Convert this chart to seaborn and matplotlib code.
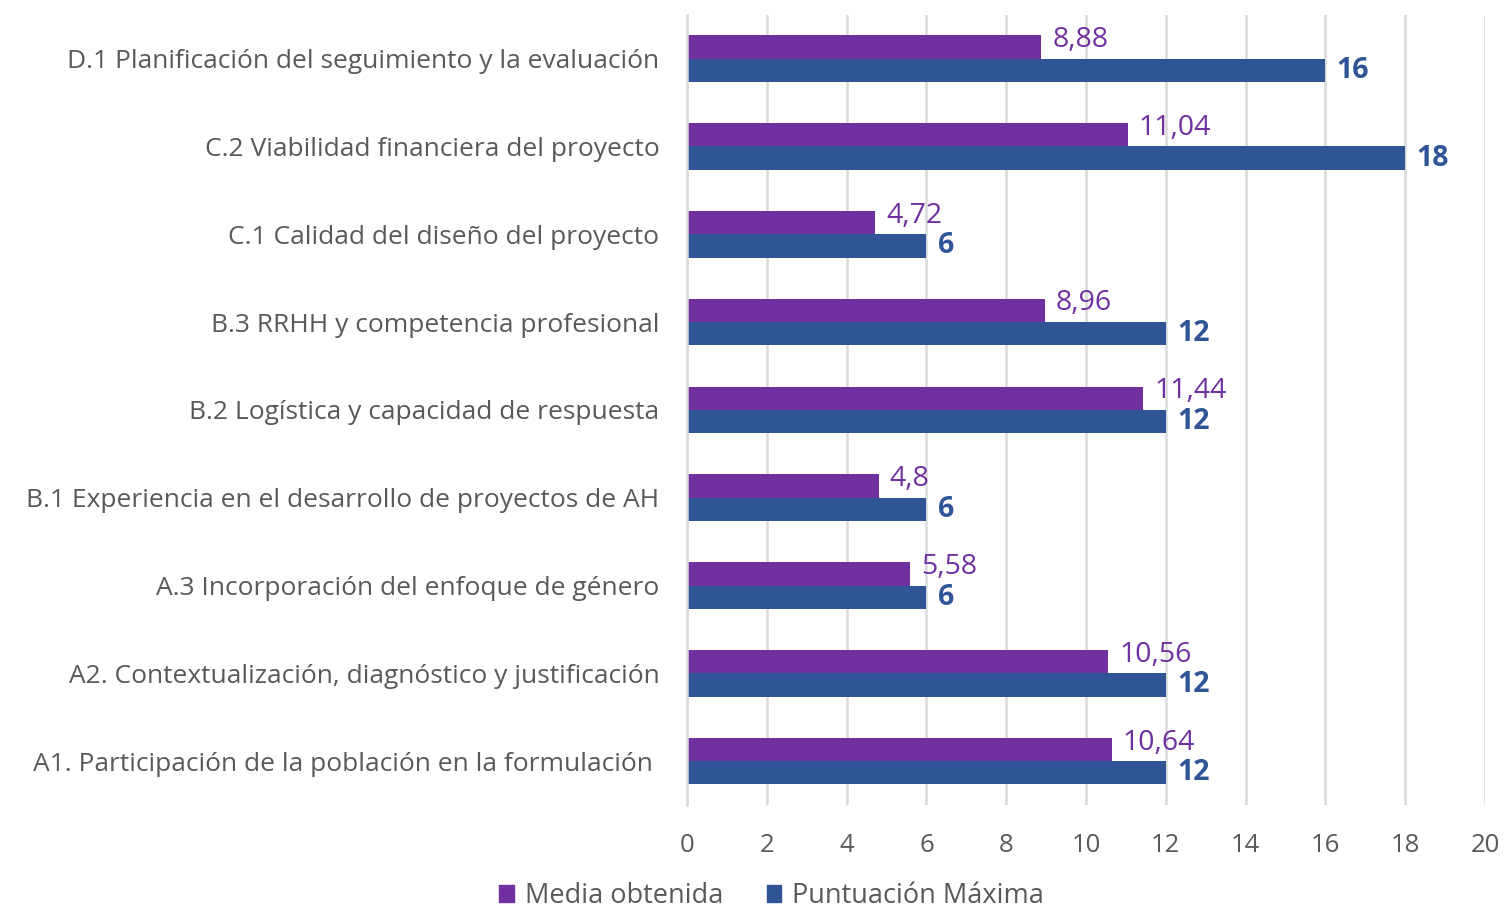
import matplotlib
matplotlib.use("Agg")
import matplotlib.pyplot as plt
import seaborn as sns
import pandas as pd
from matplotlib.patches import Patch

categories = [
    "D.1 Planificación del seguimiento y la evaluación",
    "C.2 Viabilidad financiera del proyecto",
    "C.1 Calidad del diseño del proyecto",
    "B.3 RRHH y competencia profesional",
    "B.2 Logística y capacidad de respuesta",
    "B.1 Experiencia en el desarrollo de proyectos de AH",
    "A.3 Incorporación del enfoque de género",
    "A2. Contextualización, diagnóstico y justificación",
    "A1. Participación de la población en la formulación ",
]
media = [8.88, 11.04, 4.72, 8.96, 11.44, 4.8, 5.58, 10.56, 10.64]
maxima = [16, 18, 6, 12, 12, 6, 6, 12, 12]
series = ["Media obtenida", "Puntuación Máxima"]
xticks = list(range(0, 21, 2))

sns.set_theme(style="white")
plt.rcParams["font.family"] = ["Open Sans", "DejaVu Sans"]

df = pd.DataFrame({
    "cat": categories * 2,
    "val": media + maxima,
    "serie": [series[0]] * len(categories) + [series[1]] * len(categories),
})

colors = {series[0]: "#7030A0", series[1]: "#2F5597"}
gray = "#595959"

fig = plt.figure(figsize=(15.07, 9.18), dpi=100)
ax = fig.add_axes([0.4559, 0.123, 0.5295, 0.861])
sns.barplot(data=df, y="cat", x="val", hue="serie", palette=colors,
            orient="h", width=0.53, ax=ax, legend=False, saturation=1,
            linewidth=0)

ax.set_xlim(0, 20)
ax.set_xticks(xticks)
ax.set_xticklabels([str(t) for t in xticks], fontsize=18.5, color=gray)
ax.set_ylabel("")
ax.set_xlabel("")
ax.tick_params(axis="y", labelsize=19, labelcolor=gray, length=0, pad=20)
ax.tick_params(axis="x", length=0, pad=20)
ax.grid(axis="x", color="#D9D9D9", linewidth=1.8)
ax.set_axisbelow(True)
for s in ["top", "right", "bottom"]:
    ax.spines[s].set_visible(False)
ax.spines["left"].set_color("#D9D9D9")
ax.spines["left"].set_linewidth(1.8)

def fmt(v):
    if float(v).is_integer():
        return str(int(v))
    return f"{v:g}".replace(".", ",")

for cont, name in zip(ax.containers, series):
    labels = [fmt(v) for v in cont.datavalues]
    if name == series[0]:
        anns = ax.bar_label(cont, labels=labels, padding=8, fontsize=20.5,
                            color=colors[name])
        for a in anns:
            a.xyann = (8, 5)
    else:
        ax.bar_label(cont, labels=labels, padding=8, fontsize=20.5, color=colors[name],
                     fontweight="bold")

handles = [Patch(color=colors[s], label=s) for s in series]
fig.legend(handles=handles, loc="lower center", bbox_to_anchor=(0.512, -0.018), ncol=2,
           frameon=False, fontsize=19.5, handlelength=0.55, handleheight=0.55,
           columnspacing=1.6, handletextpad=0.4, labelcolor=gray)

fig.savefig("out.png", dpi=100)
